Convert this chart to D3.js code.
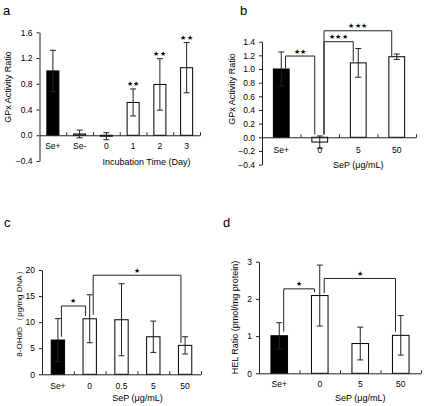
<!DOCTYPE html>
<html><head><meta charset="utf-8">
<script src="https://cdn.jsdelivr.net/npm/d3@7"></script>
<style>
body{margin:0;background:#fff}
svg{display:block}
text{font-family:"Liberation Sans",Arial,sans-serif;fill:#000}
</style>
</head><body>
<svg id="chart" width="425" height="406"></svg>
<script>
// ---------- data ----------
// panel a
const catsA = ["Se+", "Se-", "0", "1", "2", "3"];
const meanA = [1.0, 0.02, -0.015, 0.51, 0.79, 1.05];
const errA  = [0.32, 0.06, 0.055, 0.21, 0.40, 0.39];
const starsA = ["", "", "", "**", "**", "**"];
const ticksA = [-0.4, 0.0, 0.4, 0.8, 1.2, 1.6];
// panel b
const catsB = ["Se+", "0", "5", "50"];
const meanB = [1.0, -0.07, 1.09, 1.18];
const errB  = [0.25, 0.09, 0.21, 0.04];
const ticksB = [-0.4, -0.2, 0.0, 0.2, 0.4, 0.6, 0.8, 1.0, 1.2, 1.4];
const bracketsB = [
  {from: 0, to: 1, level: 1.19, endL: 1.01, endR: 0.04, label: "**"},
  {from: 1, to: 2, level: 1.40, endL: 0.04, endR: 1.11, label: "***"},
  {from: 1, to: 3, level: 1.56, endL: 0.04, endR: 1.19, label: "***"}
];
// panel c
const catsC = ["Se+", "0", "0.5", "5", "50"];
const meanC = [6.57, 10.65, 10.46, 7.2, 5.55];
const errC  = [4.1, 4.6, 6.9, 3.0, 1.65];
const ticksC = [0, 5, 10, 15, 20];
const bracketsC = [
  {from: 0, to: 1, level: 13.1, endL: 7.2, endR: 11.2, label: "*"},
  {from: 1, to: 4, level: 19.0, endL: 11.4, endR: 6.05, label: "*"}
];
// panel d
const catsD = ["Se+", "0", "5", "50"];
const meanD = [1.01, 2.09, 0.80, 1.02];
const errD  = [0.35, 0.82, 0.44, 0.53];
const ticksD = [0, 1, 2, 3];
const bracketsD = [
  {from: 0, to: 1, level: 2.27, endL: 1.12, endR: 2.18, label: "*"},
  {from: 1, to: 3, level: 2.55, endL: 2.15, endR: 1.12, label: "*"}
];

// ---------- drawing ----------
const svg = d3.select("#chart");
const FONT = "Liberation Sans, Arial, sans-serif";
const INK = "#222";
const TICKFS = 8.5, TITLEFS = 9;

function starText(s){ return s.replace(/\*/g, "\u2605"); }

function panel(p){
  const g = svg.append("g");
  const band = d3.scaleBand().domain(p.cats).range([p.x0, p.x1]).padding(0);
  const y = d3.scaleLinear().domain(p.yDomain).range([p.yBottom, p.yTop]);
  const bwid = band.bandwidth() * p.barFrac;
  const cx = c => band(c) + band.bandwidth() / 2;
  const rows = p.cats.map((c, i) => ({c, m: p.mean[i], e: p.err[i], i}));

  // bars
  g.selectAll("rect.bar").data(rows).join("rect")
    .attr("class", "bar")
    .attr("x", d => cx(d.c) - bwid / 2)
    .attr("width", bwid)
    .attr("y", d => Math.min(y(d.m), y(0)))
    .attr("height", d => Math.abs(y(d.m) - y(0)))
    .attr("fill", d => d.i === 0 ? "#000" : "#fff")
    .attr("stroke", "#000").attr("stroke-width", 1);

  // error bars
  const cap = 3;
  const eb = g.selectAll("g.err").data(rows).join("g").attr("class", "err")
    .attr("stroke", INK).attr("stroke-width", 1);
  eb.append("line").attr("x1", d => cx(d.c)).attr("x2", d => cx(d.c))
    .attr("y1", d => y(d.m + d.e)).attr("y2", d => y(d.m - d.e));
  eb.append("line").attr("x1", d => cx(d.c) - cap).attr("x2", d => cx(d.c) + cap)
    .attr("y1", d => y(d.m + d.e)).attr("y2", d => y(d.m + d.e));
  eb.append("line").attr("x1", d => cx(d.c) - cap).attr("x2", d => cx(d.c) + cap)
    .attr("y1", d => y(d.m - d.e)).attr("y2", d => y(d.m - d.e));

  // y axis
  g.append("g").attr("transform", `translate(${p.x0},0)`)
    .call(d3.axisLeft(y).tickValues(p.ticks).tickFormat(d3.format(p.fmt))
      .tickSizeInner(3).tickSizeOuter(0).tickPadding(4))
    .attr("font-size", TICKFS).attr("font-family", FONT)
    .call(a => a.selectAll("path,line").attr("stroke", INK));

  // x axis line with boundary ticks (pointing up)
  const idx = d3.scaleLinear().domain([0, p.cats.length]).range([p.x0, p.x1]);
  g.append("g").attr("transform", `translate(0,${y(0)})`)
    .call(d3.axisBottom(idx).tickValues(d3.range(1, p.cats.length + 1))
      .tickSizeInner(-3).tickSizeOuter(0).tickFormat(""))
    .call(a => a.selectAll("path,line").attr("stroke", INK));

  // category labels
  g.append("g").attr("transform", `translate(0,${y(0)})`)
    .call(d3.axisBottom(band).tickSize(0).tickPadding(p.labelPad))
    .attr("font-size", TICKFS).attr("font-family", FONT)
    .call(a => a.select(".domain").remove());

  // x title
  const first = p.titleFrom, last = p.cats.length - 1;
  g.append("text")
    .attr("x", (cx(p.cats[first]) + cx(p.cats[last])) / 2)
    .attr("y", p.titleY).attr("text-anchor", "middle")
    .attr("font-size", TITLEFS).text(p.xTitle);

  // y title
  g.append("text")
    .attr("transform", `translate(${p.yTitleX},${p.yTitleY}) rotate(-90)`)
    .attr("text-anchor", "middle").attr("dominant-baseline", "central")
    .attr("font-size", p.yTitleFS || TITLEFS).text(p.yTitle);

  // panel letter
  g.append("text").attr("x", p.letterX).attr("y", p.letterY)
    .attr("font-size", 13).text(p.letter);

  // stars above single bars
  if (p.stars){
    g.selectAll("text.st").data(rows.filter(d => p.stars[d.i])).join("text")
      .attr("class", "st")
      .attr("x", d => cx(d.c)).attr("y", d => y(d.m + d.e) - 5)
      .attr("text-anchor", "middle").attr("dominant-baseline", "central")
      .attr("font-family", "DejaVu Sans").attr("font-size", 7)
      .attr("letter-spacing", 0.5)
      .text(d => starText(p.stars[d.i]));
  }

  // brackets
  if (p.brackets){
    const bwb = band.bandwidth();
    p.brackets.forEach(b => {
      const xL = cx(p.cats[b.from]) + 0.11 * bwb;
      const xR = cx(p.cats[b.to]) - 0.13 * bwb;
      const path = d3.path();
      path.moveTo(xL, y(b.endL));
      path.lineTo(xL, y(b.level));
      path.lineTo(xR, y(b.level));
      path.lineTo(xR, y(b.endR));
      g.append("path").attr("d", path.toString())
        .attr("fill", "none").attr("stroke", INK).attr("stroke-width", 1);
      g.append("text").attr("x", (xL + xR) / 2).attr("y", y(b.level) - 5)
        .attr("text-anchor", "middle").attr("dominant-baseline", "central")
        .attr("font-family", "DejaVu Sans").attr("font-size", 7)
        .attr("letter-spacing", 0.5)
        .text(starText(b.label));
    });
  }
}

panel({
  cats: catsA, mean: meanA, err: errA, ticks: ticksA, stars: starsA, fmt: ".1f",
  x0: 39.5, x1: 200, yDomain: [-0.4, 1.6], yBottom: 161, yTop: 32.3, barFrac: 0.45,
  labelPad: 8, titleFrom: 2, titleY: 165, xTitle: "Incubation Time (Day)",
  yTitle: "GPx Activity Ratio", yTitleX: 7.5, yTitleY: 87,
  letter: "a", letterX: 3, letterY: 15
});
panel({
  cats: catsB, mean: meanB, err: errB, ticks: ticksB, brackets: bracketsB, fmt: ".1f",
  x0: 262, x1: 416, yDomain: [-0.4, 1.4], yBottom: 164.6, yTop: 41.7, barFrac: 0.41,
  labelPad: 10, titleFrom: 1, titleY: 168, xTitle: "SeP (\u03bcg/mL)",
  yTitle: "GPx Activity Ratio", yTitleX: 231.5, yTitleY: 89,
  letter: "b", letterX: 240, letterY: 15
});
panel({
  cats: catsC, mean: meanC, err: errC, ticks: ticksC, brackets: bracketsC, fmt: "d",
  x0: 42, x1: 201, yDomain: [0, 20], yBottom: 374.3, yTop: 270, barFrac: 0.42,
  labelPad: 9, titleFrom: 1, titleY: 401, xTitle: "SeP (\u03bcg/mL)",
  yTitle: "8-OHdG \uff08pg/mg DNA\uff09", yTitleX: 19, yTitleY: 312, yTitleFS: 8,
  letter: "c", letterX: 4, letterY: 227
});
panel({
  cats: catsD, mean: meanD, err: errD, ticks: ticksD, brackets: bracketsD, fmt: "d",
  x0: 259, x1: 421, yDomain: [0, 3], yBottom: 373.3, yTop: 261.7, barFrac: 0.41,
  labelPad: 8, titleFrom: 1, titleY: 401, xTitle: "SeP (\u03bcg/mL)",
  yTitle: "HEL Ratio (pmol/mg protein)", yTitleX: 235, yTitleY: 317.5,
  letter: "d", letterX: 223, letterY: 227
});
</script>
</body></html>
